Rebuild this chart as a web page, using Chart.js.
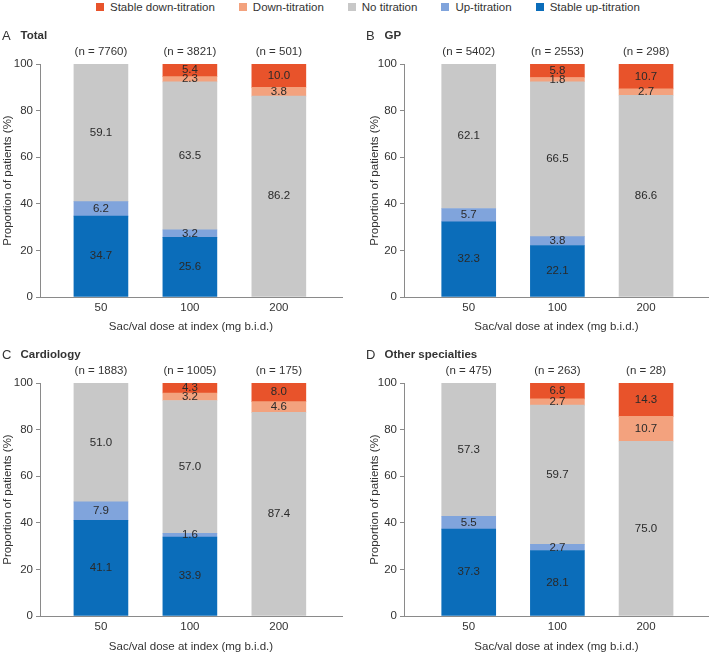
<!DOCTYPE html>
<html>
<head>
<meta charset="utf-8">
<script src="https://cdn.jsdelivr.net/npm/chart.js@4.4.1/dist/chart.umd.min.js"></script>
<style>
  body { margin: 0; background: #fff; }
  #wrap { position: relative; width: 709px; height: 654px; overflow: hidden; font-family: 'Liberation Sans', Arial, sans-serif; }
  #wrap canvas { position: absolute; }
  #legend { position: absolute; top: 0; left: 96px; display: flex; align-items: center; height: 13px; font-size: 11.5px; color: #333; }
  #legend .item { display: flex; align-items: center; margin-right: 24px; white-space: nowrap; }
  #legend .box { width: 8px; height: 8px; margin-right: 6px; }
</style>
</head>
<body>
<div id="wrap">
  <div id="legend"></div>
  <canvas id="cA" width="354" height="335" style="left:0;top:0"></canvas>
  <canvas id="cB" width="345" height="335" style="left:364px;top:0"></canvas>
  <canvas id="cC" width="354" height="335" style="left:0;top:319px"></canvas>
  <canvas id="cD" width="345" height="335" style="left:364px;top:319px"></canvas>
</div>
<script>
// doses on the x axis
const doses = ['50', '100', '200'];

// series, listed bottom of the stack first
const seriesNames = ['Stable up-titration', 'Up-titration', 'No titration', 'Down-titration', 'Stable down-titration'];
const seriesColors = ['#0b6dba', '#80a4dc', '#c8c8c8', '#f3a27e', '#e8532b'];

// A Total
const totalN = [7760, 3821, 501];
const totalStableUp = [34.7, 25.6, 0];
const totalUp = [6.2, 3.2, 0];
const totalNone = [59.1, 63.5, 86.2];
const totalDown = [0, 2.3, 3.8];
const totalStableDown = [0, 5.4, 10.0];

// B GP
const gpN = [5402, 2553, 298];
const gpStableUp = [32.3, 22.1, 0];
const gpUp = [5.7, 3.8, 0];
const gpNone = [62.1, 66.5, 86.6];
const gpDown = [0, 1.8, 2.7];
const gpStableDown = [0, 5.8, 10.7];

// C Cardiology
const cardN = [1883, 1005, 175];
const cardStableUp = [41.1, 33.9, 0];
const cardUp = [7.9, 1.6, 0];
const cardNone = [51.0, 57.0, 87.4];
const cardDown = [0, 3.2, 4.6];
const cardStableDown = [0, 4.3, 8.0];

// D Other specialties
const otherN = [475, 263, 28];
const otherStableUp = [37.3, 28.1, 0];
const otherUp = [5.5, 2.7, 0];
const otherNone = [57.3, 59.7, 75.0];
const otherDown = [0, 2.7, 10.7];
const otherStableDown = [0, 6.8, 14.3];

const yTicks = [0, 20, 40, 60, 80, 100];

const FONT = "'Liberation Sans', Arial, sans-serif";
Chart.defaults.font.family = FONT;
Chart.defaults.font.size = 11.5;
Chart.defaults.color = '#333';

// html legend, same order as the figure (top of stack first)
const legendEl = document.getElementById('legend');
for (let i = seriesNames.length - 1; i >= 0; i--) {
  const item = document.createElement('div');
  item.className = 'item';
  item.innerHTML = '<span class="box" style="background:' + seriesColors[i] + '"></span><span>' + seriesNames[i] + '</span>';
  legendEl.appendChild(item);
}

// draws the value inside each segment, the n above each bar and the panel title
const panelText = {
  id: 'panelText',
  afterDatasetsDraw(chart, args, opts) {
    const ctx = chart.ctx;
    ctx.save();
    ctx.textAlign = 'center';
    ctx.textBaseline = 'middle';
    ctx.font = '11.5px ' + FONT;
    ctx.fillStyle = '#2a2a2a';
    chart.data.datasets.forEach((ds, i) => {
      chart.getDatasetMeta(i).data.forEach((bar, j) => {
        const v = ds.data[j].y;
        if (!v) return;
        const mid = (bar.y + bar.base) / 2;
        ctx.fillText(v.toFixed(1), bar.x, mid);
      });
    });
    // n labels
    ctx.fillStyle = '#333';
    const xs = chart.scales.x;
    opts.n.forEach((n, j) => {
      ctx.fillText('(n = ' + n + ')', xs.getPixelForValue(j + 1), 52);
    });
    // title
    ctx.textAlign = 'left';
    ctx.font = '13px ' + FONT;
    ctx.fillStyle = '#333';
    ctx.fillText(opts.letter, 2, 36);
    ctx.font = 'bold 11.5px ' + FONT;
    ctx.fillText(opts.title, 20.5, 36);
    ctx.restore();
  }
};

function makePanel(id, letter, title, n, series, lay) {
  const datasets = series.map((vals, i) => ({
    label: seriesNames[i],
    // zero segments are left out so no hairline is drawn
    data: vals.map((v, j) => ({ x: j + 1, y: v })).filter(p => p.y > 0),
    backgroundColor: seriesColors[i],
    borderWidth: 0,
    barThickness: 54,
    stack: 'all'
  }));
  return new Chart(document.getElementById(id), {
    type: 'bar',
    data: { datasets },
    plugins: [panelText],
    options: {
      responsive: false,
      animation: false,
      layout: { padding: { top: 64, right: lay.padRight, left: 0, bottom: 0 } },
      plugins: {
        legend: { display: false },
        tooltip: { enabled: false },
        panelText: { letter, title, n }
      },
      scales: {
        x: {
          type: 'linear',
          offset: false,
          min: lay.xMin,
          max: lay.xMax,
          afterBuildTicks: s => { s.ticks = doses.map((d, i) => ({ value: i + 1 })); },
          afterFit: s => { s.height = 38; },
          ticks: { callback: (v) => doses[v - 1], padding: 4, color: '#333', font: { size: 11.5 } },
          grid: { display: false, drawTicks: false },
          border: { display: true, color: '#8a8a8a', width: 1 },
          title: { display: true, text: 'Sac/val dose at index (mg b.i.d.)', color: '#333', font: { size: 11.5 }, padding: { top: 0, bottom: lay.xTitlePad } }
        },
        y: {
          stacked: true,
          min: 0,
          max: 100,
          afterBuildTicks: s => { s.ticks = yTicks.map(v => ({ value: v })); },
          afterFit: s => { s.width = 40; },
          ticks: { padding: 3, color: '#333', font: { size: 11.5 } },
          grid: { drawOnChartArea: false, drawTicks: true, tickLength: 4, color: '#8a8a8a' },
          border: { display: true, color: '#8a8a8a', width: 1 },
          title: { display: true, text: 'Proportion of patients (%)', color: '#333', font: { size: 11.5 }, padding: { top: lay.yTitlePad, bottom: 0 } }
        }
      }
    }
  });
}

const leftLay = { padRight: 12, xMin: 0.315, xMax: 3.71, yTitlePad: 0.6, xTitlePad: 1 };
const rightLay = { padRight: 0, xMin: 0.27, xMax: 3.71, yTitlePad: 3.5, xTitlePad: 1 };

makePanel('cA', 'A', 'Total', totalN,
  [totalStableUp, totalUp, totalNone, totalDown, totalStableDown], leftLay);
makePanel('cB', 'B', 'GP', gpN,
  [gpStableUp, gpUp, gpNone, gpDown, gpStableDown], rightLay);
makePanel('cC', 'C', 'Cardiology', cardN,
  [cardStableUp, cardUp, cardNone, cardDown, cardStableDown], Object.assign({}, leftLay, { xTitlePad: 0 }));
makePanel('cD', 'D', 'Other specialties', otherN,
  [otherStableUp, otherUp, otherNone, otherDown, otherStableDown], Object.assign({}, rightLay, { xTitlePad: 0 }));
</script>
</body>
</html>
